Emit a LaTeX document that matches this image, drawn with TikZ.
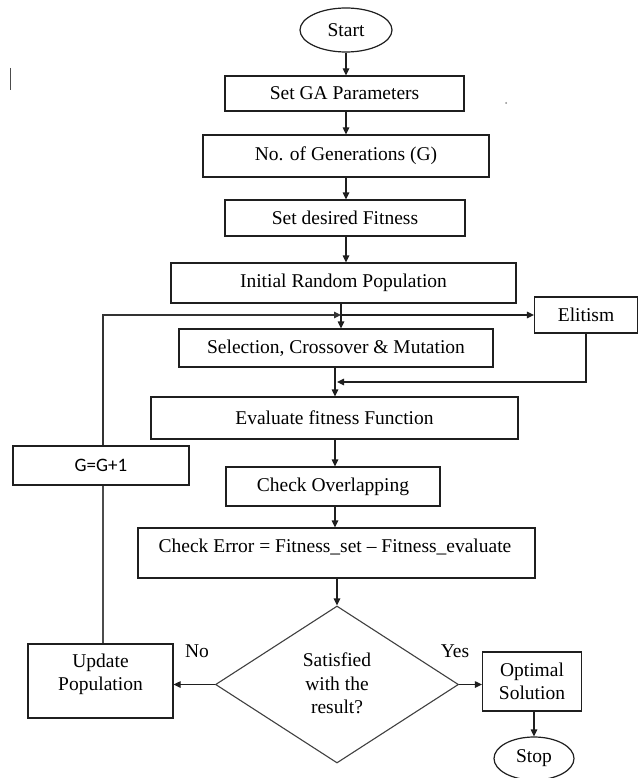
\documentclass[tikz,border=0pt]{standalone}
\usepackage{fontspec}
\setmainfont{Liberation Serif}
\newfontfamily\calib{Carlito}
\usetikzlibrary{arrows.meta,shapes.geometric}
\begin{document}
\begin{tikzpicture}[x=1pt,y=-1pt,
  every node/.style={font=\fontsize{19.5}{23.5}\selectfont, text=black},
  box/.style={draw=black!88, line width=1.2pt, rectangle, inner sep=0pt, align=center},
  oval/.style={draw=black!88, line width=1.2pt, ellipse, inner sep=0pt},
  dia/.style={draw=black!75, line width=1.1pt, diamond, aspect=1.55, inner sep=0pt, align=center},
  conn/.style={draw=black!88, line width=1.2pt},
  arr/.style={conn, -{Triangle[length=7pt,width=6.5pt]}},
  lbl/.style={inner sep=0pt, align=center}]
\useasboundingbox (0,0) rectangle (639,778);
\fill[white] (0,0) rectangle (639,778);

% stray marks of the original
\draw[black!70, line width=1pt] (10,68) -- (10,90);
\fill[black!45] (506,103) circle (1pt);

% nodes
\node[oval, minimum width=92pt, minimum height=44pt] (start) at (346,30) {Start};
\node[box, minimum width=239pt, minimum height=35pt] (setga) at (344.5,93.5) {Set GA Parameters};
\node[box, minimum width=286pt, minimum height=42pt] (nogen) at (346,156) {No. of Generations (G)};
\node[box, minimum width=240pt, minimum height=36pt] (setdes) at (345,218) {Set desired Fitness};
\node[box, minimum width=345pt, minimum height=40pt] (irp) at (343.5,283) {Initial Random Population};
\node[box, minimum width=103pt, minimum height=36pt] (elit) at (586,315) {Elitism};
\node[box, minimum width=314pt, minimum height=38pt] (sel) at (336,348) {Selection, Crossover \& Mutation};
\node[box, minimum width=367pt, minimum height=42pt] (eval) at (334.5,418) {Evaluate fitness Function};
\node[box, minimum width=176pt, minimum height=39pt, font=\calib\fontsize{19}{23}\selectfont] (ggp) at (101,465.5) {G=G+1};
\node[box, minimum width=214pt, minimum height=39pt] (chov) at (333,486.5) {Check Overlapping};
\node[box, minimum width=397pt, minimum height=50pt] (cherr) at (336.5,553) {};
\node[lbl] (cherrt) at (335,547) {Check Error = Fitness\_set -- Fitness\_evaluate};
\node[dia, minimum width=243pt, minimum height=157pt] (dec) at (337,684.5) {};
\node[lbl] (dect) at (337,683.5) {Satisfied\\with the\\result?};
\node[box, minimum width=145pt, minimum height=74pt] (upd) at (100.5,681) {};
\node[lbl] (updt) at (100.5,674.5) {Update\\Population};
\node[box, minimum width=99pt, minimum height=59pt] (opt) at (532,681.5) {Optimal\\Solution};
\node[oval, minimum width=80pt, minimum height=43pt] (stop) at (534,758.5) {Stop};
\node[lbl] (no) at (197,651) {No};
\node[lbl] (yes) at (455,651) {Yes};

% helper coordinates
\coordinate (j1) at (341,315);
\coordinate (j2) at (337,382);
\coordinate (cx) at (335,0);
\coordinate (lx) at (103,315);

% main flow
\draw[arr] (start.south) -- (start.south |- setga.north);
\draw[arr] (start.south |- setga.south) -- (start.south |- nogen.north);
\draw[arr] (start.south |- nogen.south) -- (start.south |- setdes.north);
\draw[arr] (start.south |- setdes.south) -- (start.south |- irp.north);
\draw[arr] (j1 |- irp.south) -- (j1 |- sel.north);
\draw[arr] (j1) -- (elit.west);
\draw[arr] (elit.south) |- (j2);
\draw[arr] (cx |- sel.south) -- (cx |- eval.north);
\draw[arr] (cx |- eval.south) -- (cx |- chov.north);
\draw[arr] (cx |- chov.south) -- (cx |- cherr.north);
\draw[arr] (dec.north |- cherr.south) -- (dec.north);
\draw[arr] (dec.west) -- (dec.west -| upd.east);
\draw[arr] (dec.east) -- (dec.east -| opt.west);
\draw[arr] (stop.north |- opt.south) -- (stop.north);

% loop back
\draw[conn, draw=black!70] (lx |- upd.north) -- (lx |- ggp.south);
\draw[arr, draw=black!80] (lx |- ggp.north) -- (lx) -- (j1);
\end{tikzpicture}
\end{document}
